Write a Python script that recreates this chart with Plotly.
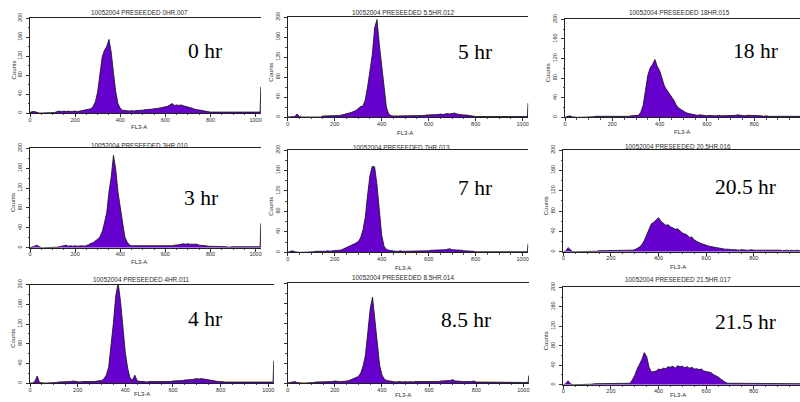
import plotly.graph_objects as go

# FL3-A channel bins (0..1020 step 10, plus the overflow channel 1023)
fl3_bins = list(range(0, 1021, 10)) + [1023]

x_ticks = [0, 200, 400, 600, 800, 1000]
y_ticks = [0, 40, 80, 120, 160, 200]

panel_titles = [
    "10052004 PRESEEDED 0HR.007", "10052004 PRESEEDED 5.5HR.012", "10052004 PRESEEDED 18HR.015",
    "10052004 PRESEEDED 3HR.010", "10052004 PRESEEDED 7HR.013", "10052004 PRESEEDED 20.5HR.016",
    "10052004 PRESEEDED 4HR.011", "10052004 PRESEEDED 8.5HR.014", "10052004 PRESEEDED 21.5HR.017",
]
time_labels = ["0 hr", "5 hr", "18 hr", "3 hr", "7 hr", "20.5 hr", "4 hr", "8.5 hr", "21.5 hr"]

counts_0hr = [1, 3, 3, 1, 0, 0, 0, 0, 0, 0,
              1, 1, 3, 4, 3, 4, 3, 4, 3, 4,
              4, 3, 4, 4, 5, 6, 7, 9, 14, 24,
              45, 80, 118, 132, 140, 155, 128, 85, 45, 20,
              10, 6, 5, 4, 4, 5, 4, 5, 5, 6,
              6, 7, 7, 8, 8, 9, 9, 10, 11, 12,
              13, 14, 17, 20, 16, 17, 16, 17, 15, 14,
              12, 11, 10, 8, 7, 6, 5, 4, 4, 3,
              2, 2, 2, 3, 2, 2, 2, 3, 2, 2,
              2, 2, 2, 3, 2, 2, 2, 2, 2, 2,
              2, 2, 2, 55]

counts_5hr = [0, 0, 0, 1, 6, 1, 0, 0, 0, 0,
              0, 0, 0, 0, 0, 2, 2, 2, 3, 2,
              3, 3, 3, 4, 5, 6, 8, 9, 11, 13,
              17, 21, 22, 34, 60, 92, 125, 178, 195, 145,
              100, 58, 20, 6, 3, 2, 2, 2, 2, 2,
              2, 2, 2, 2, 3, 3, 3, 3, 3, 4,
              4, 4, 4, 5, 5, 6, 5, 6, 7, 6,
              7, 8, 6, 5, 5, 4, 4, 3, 2, 1,
              1, 1, 1, 1, 1, 1, 1, 1, 1, 1,
              1, 1, 1, 2, 2, 1, 1, 1, 1, 1,
              1, 1, 1, 28]

counts_18hr = [0, 1, 3, 1, 0, 0, 0, 0, 0, 0,
               0, 0, 1, 2, 2, 2, 1, 2, 2, 2,
               2, 2, 1, 2, 2, 2, 2, 2, 3, 3,
               3, 4, 10, 24, 55, 86, 101, 108, 118, 104,
               95, 80, 64, 56, 49, 42, 35, 25, 19, 16,
               12, 10, 8, 7, 5, 5, 4, 5, 4, 3,
               3, 4, 3, 3, 3, 4, 3, 3, 3, 4,
               4, 4, 4, 5, 4, 4, 3, 4, 4, 3,
               3, 3, 3, 3, 2, 3, 2, 2, 2, 2,
               2, 2, 2, 2, 2, 2, 3, 2, 2, 2,
               2, 2, 2, 2]

counts_3hr = [0, 1, 3, 5, 2, 0, 0, 0, 0, 0,
              0, 0, 1, 2, 3, 4, 5, 3, 4, 3,
              4, 3, 4, 4, 3, 4, 6, 9, 10, 14,
              17, 22, 32, 50, 70, 112, 142, 186, 158, 112,
              79, 45, 22, 12, 6, 4, 4, 3, 3, 4,
              3, 4, 3, 4, 3, 4, 4, 3, 4, 4,
              4, 3, 4, 4, 5, 5, 6, 7, 8, 7,
              8, 7, 7, 6, 7, 5, 5, 4, 4, 3,
              3, 2, 2, 2, 2, 2, 2, 2, 1, 2,
              2, 2, 2, 2, 2, 2, 2, 2, 2, 2,
              3, 2, 2, 49]

counts_7hr = [0, 1, 3, 1, 0, 0, 0, 0, 0, 0,
              0, 1, 2, 2, 1, 2, 2, 3, 2, 3,
              3, 4, 4, 5, 7, 9, 11, 14, 16, 18,
              21, 28, 43, 68, 112, 150, 168, 167, 132, 82,
              34, 12, 6, 4, 3, 3, 2, 2, 3, 2,
              2, 3, 2, 3, 3, 3, 3, 3, 3, 3,
              3, 4, 4, 4, 4, 4, 5, 5, 6, 7,
              5, 5, 4, 4, 4, 3, 3, 3, 2, 2,
              1, 1, 1, 1, 1, 1, 1, 1, 1, 1,
              1, 1, 1, 1, 1, 1, 1, 1, 1, 1,
              1, 1, 1, 17]

counts_20_5hr = [0, 1, 8, 3, 0, 0, 0, 0, 0, 0,
                 0, 0, 0, 1, 1, 2, 2, 2, 2, 2,
                 2, 2, 2, 2, 2, 2, 2, 2, 3, 3,
                 4, 6, 9, 14, 22, 33, 45, 55, 58, 62,
                 67, 60, 56, 52, 53, 49, 47, 44, 45, 40,
                 37, 35, 33, 28, 29, 23, 20, 18, 16, 14,
                 12, 11, 10, 9, 8, 8, 6, 6, 5, 5,
                 4, 4, 4, 3, 3, 4, 3, 3, 3, 4,
                 3, 3, 4, 3, 3, 4, 3, 3, 3, 3,
                 3, 3, 2, 3, 3, 2, 3, 2, 3, 2,
                 2, 2, 2, 2]

counts_4hr = [0, 0, 3, 14, 1, 0, 0, 0, 0, 0,
              0, 1, 2, 2, 2, 3, 2, 3, 4, 3,
              3, 2, 3, 3, 2, 3, 3, 3, 4, 4,
              5, 8, 16, 32, 72, 122, 178, 203, 166, 110,
              62, 30, 10, 6, 16, 4, 3, 3, 3, 2,
              3, 3, 2, 3, 3, 3, 3, 3, 3, 3,
              4, 4, 4, 5, 5, 6, 6, 7, 7, 8,
              9, 8, 9, 8, 7, 6, 6, 5, 4, 3,
              3, 2, 2, 2, 2, 2, 2, 2, 2, 2,
              2, 2, 2, 2, 2, 2, 2, 2, 2, 2,
              2, 2, 2, 45]

counts_8_5hr = [0, 1, 1, 3, 1, 0, 0, 0, 0, 0,
                0, 1, 2, 2, 3, 3, 2, 3, 3, 3,
                4, 3, 3, 3, 3, 4, 5, 7, 10, 12,
                13, 20, 34, 56, 102, 148, 172, 128, 74, 36,
                16, 8, 5, 4, 3, 3, 2, 3, 2, 2,
                3, 2, 3, 2, 3, 3, 2, 3, 3, 3,
                3, 3, 3, 3, 3, 4, 4, 4, 4, 5,
                7, 4, 4, 3, 3, 3, 3, 2, 3, 4,
                2, 2, 2, 2, 2, 1, 1, 1, 1, 1,
                1, 1, 1, 2, 1, 1, 1, 1, 1, 1,
                1, 1, 1, 15]

counts_21_5hr = [0, 2, 8, 2, 0, 0, 0, 0, 0, 0,
                 0, 0, 1, 2, 2, 3, 2, 3, 3, 2,
                 2, 3, 2, 2, 3, 2, 2, 2, 3, 10,
                 19, 32, 42, 52, 66, 58, 36, 26, 27, 28,
                 32, 31, 34, 33, 37, 36, 38, 34, 39, 37,
                 38, 35, 37, 34, 36, 32, 33, 31, 32, 28,
                 27, 26, 25, 21, 19, 16, 12, 8, 5, 3,
                 3, 3, 3, 2, 3, 3, 3, 3, 2, 3,
                 3, 3, 3, 3, 2, 3, 3, 2, 3, 3,
                 3, 2, 3, 3, 2, 2, 3, 2, 2, 2,
                 2, 2, 2, 2]

all_counts = [counts_0hr, counts_5hr, counts_18hr,
              counts_3hr, counts_7hr, counts_20_5hr,
              counts_4hr, counts_8_5hr, counts_21_5hr]

# ---- layout (pixel geometry of the 800x402 collage) ----
W, H = 800, 402
# plot box: x0, x1, y_top(200), y_bottom(0), visible x max
boxes = [
    (30, 261, 18, 113, 1024), (287.7, 528.3, 17, 117, 1024), (565, 800, 19.3, 117.3, 993),
    (30, 261, 148.3, 247.7, 1024), (287.7, 528.3, 150, 252.3, 1024), (563.3, 800, 150, 251.7, 994),
    (30, 274, 284.7, 383, 1024), (287.7, 529, 283, 383, 1024), (563.3, 800, 287.3, 384.7, 994),
]
title_pos = [(139, 12.5), (403, 12.5), (679, 12.5),
             (139.5, 145.5), (401.7, 147), (677.5, 146.5),
             (141.7, 279), (403, 277.3), (677.5, 279.5)]
label_pos = [(204.5, 51), (474.7, 52), (755, 51),
             (200.8, 197.5), (474.7, 187.5), (745.5, 187),
             (204.5, 319), (466.3, 320), (745.5, 321.5)]
fl3_pos = [(139.3, 126.7), (405, 132.7), (681.7, 131.7),
           (139.3, 261.7), (403.3, 267.7), (678, 266.7),
           (141.7, 394), (403, 394.7), (678, 395.3)]
show_y_labels = [True, True, True, True, True, True, True, False, True]

sans = "Liberation Sans"
txt_col = "#2a2a2a"

fig = go.Figure()
annotations = []
layout_axes = {}

for i, counts in enumerate(all_counts):
    k = i + 1
    sfx = "" if k == 1 else str(k)
    x0, x1, yt, yb, xmax = boxes[i]
    fig.add_trace(go.Scatter(
        x=fl3_bins, y=counts, xaxis="x" + sfx, yaxis="y" + sfx,
        mode="lines", line=dict(color="#111111", width=0.8),
        fill="tozeroy", fillcolor="#6600cc",
        hoverinfo="skip", showlegend=False))
    layout_axes["xaxis" + sfx] = dict(
        domain=[x0 / W, x1 / W], range=[0, xmax], anchor="y" + sfx,
        tickvals=x_ticks, ticks="outside", ticklen=3, tickwidth=0.8, tickcolor="#333",
        minor=dict(ticks="outside", ticklen=1.5, dtick=50, tickcolor="#555", tickwidth=0.6),
        showline=True, linecolor="#222", linewidth=0.9, mirror=True,
        showgrid=False, zeroline=False, automargin=False, ticklabelstandoff=-2,
        tickfont=dict(family=sans, size=5.5, color=txt_col))
    layout_axes["yaxis" + sfx] = dict(
        domain=[1 - yb / H, 1 - yt / H], range=[0, 200], anchor="x" + sfx,
        tickvals=y_ticks, ticks="outside", ticklen=3, tickwidth=0.8, tickcolor="#333",
        minor=dict(ticks="outside", ticklen=1.5, dtick=20, tickcolor="#555", tickwidth=0.6),
        showticklabels=show_y_labels[i], tickangle=-90,
        showline=True, linecolor="#222", linewidth=0.9,
        showgrid=False, zeroline=False, automargin=False, ticklabelstandoff=2,
        tickfont=dict(family=sans, size=5.5, color=txt_col))
    # panel title
    tx, ty = title_pos[i]
    annotations.append(dict(x=tx / W, y=1 - ty / H, xref="paper", yref="paper",
                            text=panel_titles[i], showarrow=False,
                            font=dict(family=sans, size=6.4, color=txt_col),
                            xanchor="center", yanchor="middle"))
    # x axis title
    fx, fy = fl3_pos[i]
    annotations.append(dict(x=fx / W, y=1 - fy / H, xref="paper", yref="paper",
                            text="FL3-A", showarrow=False,
                            font=dict(family=sans, size=6, color=txt_col),
                            xanchor="center", yanchor="middle"))
    # y axis title
    if show_y_labels[i]:
        annotations.append(dict(x=(x0 - 17) / W, y=1 - ((yt + yb) / 2 + 5) / H,
                                xref="paper", yref="paper", text="Counts",
                                showarrow=False, textangle=-90,
                                font=dict(family=sans, size=6, color=txt_col),
                                xanchor="center", yanchor="middle"))
    # big time label
    lx, ly = label_pos[i]
    annotations.append(dict(x=lx / W, y=1 - ly / H, xref="paper", yref="paper",
                            text=time_labels[i], showarrow=False,
                            font=dict(family="Liberation Serif", size=21.5, color="#000"),
                            xanchor="center", yanchor="middle"))

fig.update_layout(
    width=W, height=H, margin=dict(l=0, r=0, t=0, b=0, autoexpand=False),
    paper_bgcolor="white", plot_bgcolor="white",
    annotations=annotations, **layout_axes)

fig.write_html("out.html", config={"displayModeBar": False},
               post_script="document.body.style.margin='0';document.body.style.overflow='hidden';")
